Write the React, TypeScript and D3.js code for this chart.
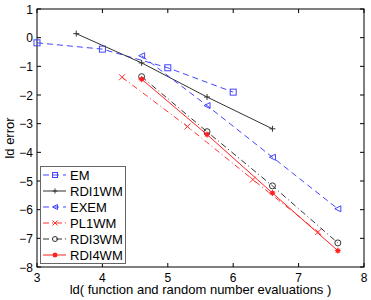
import React, { useEffect, useRef } from 'react';
import * as d3 from 'd3';

// values
const emX = [3, 4, 5, 6];
const emY = [-0.18, -0.4, -1.05, -1.9];
const rdi1X = [3.6, 4.6, 5.6, 6.6];
const rdi1Y = [0.14, -0.88, -2.07, -3.18];
const exemX = [4.6, 5.6, 6.6, 7.6];
const exemY = [-0.63, -2.37, -4.17, -5.97];
const pl1X = [4.3, 5.3, 6.3, 7.3];
const pl1Y = [-1.38, -3.1, -4.95, -6.78];
const rdi3X = [4.6, 5.6, 6.6, 7.6];
const rdi3Y = [-1.36, -3.28, -5.17, -7.16];
const rdi4X = [4.6, 5.6, 6.6, 7.6];
const rdi4Y = [-1.45, -3.38, -5.42, -7.43];

const xTicks = [3, 4, 5, 6, 7, 8];
const yTicks = [1, 0, -1, -2, -3, -4, -5, -6, -7, -8];

const series = [
  { name: 'EM', xs: emX, ys: emY, color: '#4444ff', dash: '6,4', marker: 'square' },
  { name: 'RDI1WM', xs: rdi1X, ys: rdi1Y, color: '#333333', dash: null, marker: 'plus' },
  { name: 'EXEM', xs: exemX, ys: exemY, color: '#4444ff', dash: '6,4', marker: 'tri' },
  { name: 'PL1WM', xs: pl1X, ys: pl1Y, color: '#ff3333', dash: '6,3,1,3', marker: 'x' },
  { name: 'RDI3WM', xs: rdi3X, ys: rdi3Y, color: '#333333', dash: '6,3,1,3', marker: 'circle' },
  { name: 'RDI4WM', xs: rdi4X, ys: rdi4Y, color: '#ff2222', dash: null, marker: 'star' },
];

const FONT = 'Liberation Sans, Arial, sans-serif';

const App = () => {
  const svgRef = useRef<SVGSVGElement>(null);

  useEffect(() => {
    const width = 371;
    const height = 300;
    const margin = { top: 9, right: 7, bottom: 33, left: 37 };

    const svg = d3.select(svgRef.current);
    svg.selectAll('*').remove();
    svg.attr('width', width).attr('height', height);

    const x = d3.scaleLinear().domain([3, 8]).range([margin.left, width - margin.right]);
    const y = d3.scaleLinear().domain([-8, 1]).range([height - margin.bottom, margin.top]);

    // box + inward ticks
    const g = svg.append('g').attr('font-family', FONT).attr('font-size', 12);
    const tl = 4;
    xTicks.forEach((t) => {
      g.append('line').attr('x1', x(t)).attr('x2', x(t)).attr('y1', y(-8)).attr('y2', y(-8) - tl).attr('stroke', '#000');
      g.append('line').attr('x1', x(t)).attr('x2', x(t)).attr('y1', y(1)).attr('y2', y(1) + tl).attr('stroke', '#000');
      g.append('text').attr('x', x(t)).attr('y', y(-8) + 15).attr('text-anchor', 'middle').text(String(t));
    });
    yTicks.forEach((t) => {
      g.append('line').attr('x1', x(3)).attr('x2', x(3) + tl).attr('y1', y(t)).attr('y2', y(t)).attr('stroke', '#000');
      g.append('line').attr('x1', x(8)).attr('x2', x(8) - tl).attr('y1', y(t)).attr('y2', y(t)).attr('stroke', '#000');
      g.append('text').attr('x', x(3) - 4).attr('y', y(t) + 4.5).attr('text-anchor', 'end')
        .text(t < 0 ? '\u2212' + Math.abs(t) : String(t));
    });
    g.append('rect').attr('x', x(3)).attr('y', y(1)).attr('width', x(8) - x(3)).attr('height', y(-8) - y(1))
      .attr('fill', 'none').attr('stroke', '#000');

    const drawMarker = (sel: any, type: string, cx: number, cy: number, color: string, s = 3) => {
      if (type === 'square') {
        sel.append('rect').attr('x', cx - s).attr('y', cy - s).attr('width', 2 * s).attr('height', 2 * s)
          .attr('fill', 'none').attr('stroke', color);
      } else if (type === 'plus') {
        sel.append('path').attr('d', `M${cx - s},${cy}H${cx + s}M${cx},${cy - s}V${cy + s}`).attr('stroke', color);
      } else if (type === 'x') {
        sel.append('path').attr('d', `M${cx - s},${cy - s}L${cx + s},${cy + s}M${cx - s},${cy + s}L${cx + s},${cy - s}`).attr('stroke', color);
      } else if (type === 'tri') {
        sel.append('path').attr('d', `M${cx - s},${cy}L${cx + s},${cy - s}L${cx + s},${cy + s}Z`)
          .attr('fill', 'none').attr('stroke', color);
      } else if (type === 'circle') {
        sel.append('circle').attr('cx', cx).attr('cy', cy).attr('r', s).attr('fill', 'none').attr('stroke', color);
      } else if (type === 'star') {
        sel.append('circle').attr('cx', cx).attr('cy', cy).attr('r', 2.2).attr('fill', color);
        sel.append('path').attr('d', `M${cx - s},${cy}H${cx + s}M${cx},${cy - s}V${cy + s}M${cx - 2},${cy - 2}L${cx + 2},${cy + 2}M${cx - 2},${cy + 2}L${cx + 2},${cy - 2}`)
          .attr('stroke', color);
      }
    };

    const line = d3.line<[number, number]>().x((d) => x(d[0])).y((d) => y(d[1]));

    series.forEach((s) => {
      const pts: [number, number][] = s.xs.map((v, i) => [v, s.ys[i]]);
      svg.append('path').attr('d', line(pts)).attr('fill', 'none').attr('stroke', s.color)
        .attr('stroke-width', 1).attr('stroke-dasharray', s.dash);
      pts.forEach((p) => drawMarker(svg, s.marker, x(p[0]), y(p[1]), s.color));
    });

    // legend
    const lg = svg.append('g').attr('font-family', FONT).attr('font-size', 13);
    lg.append('rect').attr('x', 40.5).attr('y', 166.5).attr('width', 85).attr('height', 97)
      .attr('fill', '#fff').attr('stroke', '#666');
    series.forEach((s, i) => {
      const ly = 175 + i * 16;
      lg.append('line').attr('x1', 43).attr('x2', 66).attr('y1', ly).attr('y2', ly)
        .attr('stroke', s.color).attr('stroke-dasharray', s.dash);
      drawMarker(lg, s.marker, 55, ly, s.color, 2.5);
      lg.append('text').attr('x', 70).attr('y', ly + 5).text(s.name);
    });

    // axis labels
    svg.append('text').attr('x', x(5.5)).attr('y', 294).attr('text-anchor', 'middle')
      .attr('font-family', FONT).attr('font-size', 13)
      .text('ld( function and random number evaluations )');
    svg.append('text').attr('transform', `translate(14,${y(-3.5)}) rotate(-90)`).attr('text-anchor', 'middle')
      .attr('font-family', FONT).attr('font-size', 13).text('ld error');
  }, []);

  return (
    <svg ref={svgRef} style={{ position: 'absolute', left: 0, top: 0, background: '#fff' }}></svg>
  );
};

export default App;
